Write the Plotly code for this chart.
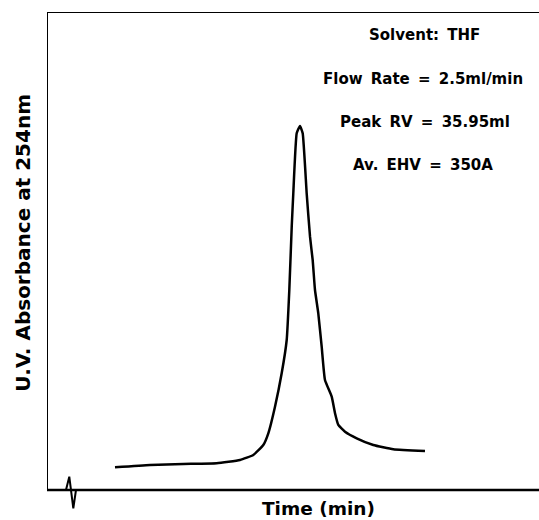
import plotly.graph_objects as go

# Chromatogram trace (time in arbitrary min units, absorbance in arbitrary units)
time_min = [13.82, 20.93, 27.70, 34.49, 39.23, 41.93, 43.96, 44.98, 46.34, 47.70,
            48.72, 49.25, 49.74, 50.06, 50.75, 51.42, 51.97, 52.78, 53.46, 54.00,
            54.47, 55.14, 55.83, 56.50, 57.87, 58.54, 59.21, 60.57, 62.95, 66.32,
            70.39, 76.83]
absorbance = [4.75, 5.23, 5.44, 5.59, 6.28, 7.32, 9.41, 11.86, 17.43, 24.41,
              31.38, 41.84, 55.08, 62.07, 74.62, 76.15, 74.62, 62.07, 52.99, 48.12,
              41.84, 36.97, 29.98, 23.01, 19.52, 16.05, 13.60, 12.20, 10.82, 9.41,
              8.51, 8.16]

# Injection mark
inj_time = [3.86, 4.53, 5.35, 5.89]
inj_signal = [0.0, 2.78, -3.83, 0.0]

info_lines = ["Solvent: THF", "Flow Rate = 2.5ml/min", "Peak RV = 35.95ml", "Av. EHV = 350A"]
info_x = [76.8, 76.5, 76.8, 76.4]
info_y = [95.2, 86.0, 77.0, 68.0]

FONT = dict(family="DejaVu Sans", color="black", weight="bold")


def widen(s):
    return s.replace(" ", " \u2009")


fig = go.Figure()
fig.add_trace(go.Scatter(x=time_min, y=absorbance, mode="lines",
                         line=dict(color="black", width=2.5, shape="spline", smoothing=0.4),
                         hoverinfo="skip", showlegend=False))
fig.add_trace(go.Scatter(x=inj_time, y=inj_signal, mode="lines",
                         line=dict(color="black", width=2),
                         hoverinfo="skip", showlegend=False))

# frame lines
fig.add_shape(type="line", x0=0, x1=0, y0=0, y1=100, xref="x", yref="y",
              line=dict(color="black", width=2))
fig.add_shape(type="line", x0=0, x1=100, y0=100, y1=100, xref="x", yref="y",
              line=dict(color="black", width=2))
fig.add_shape(type="line", x0=-0.4, x1=100, y0=0, y1=0, xref="x", yref="y",
              line=dict(color="black", width=2.5))

for t, x, y in zip(info_lines, info_x, info_y):
    fig.add_annotation(text=widen(t), x=x, y=y, xref="x", yref="y", showarrow=False,
                       xanchor="center", yanchor="middle", font=dict(size=15, **FONT))

fig.add_annotation(text="Time (min)", x=55.1, y=-3.9, xref="x", yref="y", showarrow=False,
                   xanchor="center", yanchor="middle", font=dict(size=18.5, **FONT))
fig.add_annotation(text="U.V. Absorbance at 254nm", x=-0.0488, y=0.541, xref="paper", yref="paper",
                   showarrow=False, textangle=-90, xanchor="center", yanchor="middle",
                   font=dict(size=20, **FONT))

fig.update_layout(
    width=539, height=520,
    margin=dict(l=47, r=0, t=12, b=5),
    paper_bgcolor="white", plot_bgcolor="white",
    xaxis=dict(range=[0, 100], visible=False, fixedrange=True),
    yaxis=dict(range=[-5.23, 100], visible=False, fixedrange=True),
    showlegend=False,
)

fig.write_html("out.html", config={"displayModeBar": False, "staticPlot": True},
               post_script="document.body.style.margin='0';document.body.style.overflow='hidden';")
